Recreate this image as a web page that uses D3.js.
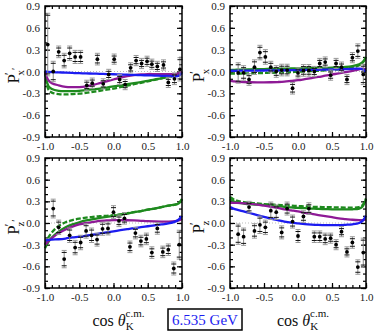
<!DOCTYPE html>
<html>
<head>
<meta charset="utf-8">
<script src="https://cdn.jsdelivr.net/npm/d3@7"></script>
<style>
  body { margin: 0; background: #fff; }
  text { font-family: "Liberation Serif", "DejaVu Serif", serif; }
</style>
</head>
<body>
<div id="root"></div>
<script>
// measured points (cos theta bins)
const cosBins = [-0.88,-0.80,-0.72,-0.64,-0.56,-0.48,-0.40,-0.32,-0.24,-0.16,-0.08,0.0,0.08,0.16,0.24,0.32,0.40,0.48,0.56,0.64,0.72,0.80,0.88,0.96];
const cosBinsTL = [-0.96,-0.88,-0.80,-0.72,-0.64,-0.56,-0.48,-0.39,-0.31,-0.235,-0.15,-0.07,0.01,0.09,0.17,0.25,0.33,0.41,0.49,0.56,0.64,0.73,0.80,0.89,0.97];

const pxPrime = [0.37,0.0,0.27,0.15,0.25,0.2,0.2,-0.19,-0.16,0.17,-0.17,-0.04,0.17,-0.11,-0.18,0.05,0.15,0.11,0.14,0.1,0.07,0.09,-0.15,-0.1,0.03];
const pxPrimeErr = [0.43,0.14,0.08,0.1,0.1,0.09,0.09,0.07,0.07,0.08,0.07,0.07,0.07,0.07,0.07,0.07,0.07,0.07,0.07,0.07,0.07,0.07,0.07,0.08,0.16];

const px = [-0.02,-0.02,-0.11,0.06,0.26,0.2,0.06,0.0,0.02,0.02,-0.23,-0.02,0.015,0.015,0.0,0.11,0.13,-0.05,0.11,0.06,-0.11,0.19,0.28,-0.04];
const pxErr = [0.14,0.1,0.08,0.1,0.1,0.1,0.08,0.08,0.08,0.08,0.08,0.07,0.08,0.08,0.07,0.07,0.07,0.07,0.07,0.07,0.07,0.07,0.1,0.14];

const pzPrime = [0.2,-0.06,-0.5,-0.17,-0.34,-0.27,-0.11,-0.17,-0.23,-0.08,-0.075,0.15,0.03,0.065,-0.33,-0.14,-0.25,-0.22,-0.41,-0.075,-0.4,-0.37,-0.63,-0.3];
const pzPrimeErr = [0.13,0.1,0.12,0.1,0.1,0.1,0.1,0.1,0.09,0.09,0.09,0.09,0.08,0.08,0.08,0.08,0.08,0.08,0.08,0.08,0.08,0.08,0.09,0.2];

const pz = [-0.155,-0.19,0.22,-0.11,-0.025,-0.06,0.17,0.15,-0.13,0.2,0.02,-0.18,0.09,0.2,-0.19,-0.19,-0.22,-0.21,-0.3,-0.12,-0.4,-0.27,-0.61,-0.41];
const pzErr = [0.14,0.12,0.08,0.1,0.12,0.1,0.12,0.1,0.09,0.09,0.09,0.09,0.08,0.08,0.08,0.08,0.08,0.07,0.07,0.07,0.07,0.08,0.1,0.2];

// model curves
const curveX = [-1,-0.95,-0.9,-0.8,-0.7,-0.6,-0.5,-0.4,-0.3,-0.2,-0.1,0,0.1,0.2,0.3,0.4,0.5,0.6,0.7,0.8,0.9,0.95,1.0];

const pxPrimeBlue = [0.0,-0.005,-0.008,-0.012,-0.016,-0.02,-0.023,-0.026,-0.029,-0.032,-0.035,-0.038,-0.041,-0.044,-0.047,-0.05,-0.053,-0.056,-0.059,-0.062,-0.066,-0.06,-0.02];
const pxPrimePurple = [0.0,-0.12,-0.16,-0.19,-0.21,-0.215,-0.215,-0.205,-0.185,-0.16,-0.135,-0.11,-0.085,-0.065,-0.05,-0.04,-0.035,-0.035,-0.035,-0.035,-0.035,-0.025,0.0];
const pxPrimeGreen = [0.0,-0.2,-0.24,-0.265,-0.27,-0.27,-0.265,-0.255,-0.245,-0.235,-0.22,-0.205,-0.19,-0.175,-0.16,-0.145,-0.13,-0.11,-0.095,-0.075,-0.055,-0.04,0.0];
const pxPrimeGreenDash = [0.0,-0.25,-0.29,-0.31,-0.315,-0.31,-0.305,-0.295,-0.28,-0.265,-0.25,-0.235,-0.215,-0.195,-0.175,-0.155,-0.135,-0.115,-0.095,-0.075,-0.05,-0.035,0.0];

const pxBlue = [0.01,0.01,0.01,0.012,0.012,0.013,0.014,0.015,0.016,0.017,0.018,0.02,0.021,0.022,0.024,0.026,0.028,0.03,0.033,0.036,0.04,0.03,0.0];
const pxPurple = [-0.13,-0.135,-0.14,-0.145,-0.148,-0.15,-0.15,-0.148,-0.145,-0.14,-0.13,-0.12,-0.105,-0.09,-0.075,-0.058,-0.042,-0.025,-0.01,0.01,0.03,0.04,0.03];
const pxGreen = [0.02,0.022,0.024,0.027,0.03,0.032,0.034,0.036,0.038,0.04,0.041,0.042,0.044,0.046,0.048,0.05,0.053,0.057,0.062,0.075,0.1,0.13,0.2];
const pxGreenDash = [-0.03,-0.03,-0.029,-0.027,-0.025,-0.022,-0.02,-0.018,-0.015,-0.012,-0.008,-0.004,0.0,0.005,0.01,0.016,0.022,0.03,0.04,0.055,0.085,0.12,0.18];

const pzPrimeBlue = [-0.24,-0.235,-0.23,-0.225,-0.215,-0.2,-0.19,-0.175,-0.16,-0.145,-0.13,-0.115,-0.1,-0.085,-0.07,-0.058,-0.045,-0.032,-0.02,-0.005,0.02,0.045,0.1];
const pzPrimePurple = [-0.3,-0.25,-0.21,-0.14,-0.09,-0.05,-0.02,0.0,0.015,0.03,0.035,0.04,0.04,0.038,0.035,0.03,0.025,0.022,0.02,0.02,0.025,0.035,0.06];
const pzPrimeGreen = [-0.35,-0.26,-0.2,-0.12,-0.06,-0.02,0.01,0.035,0.055,0.07,0.085,0.1,0.115,0.13,0.15,0.165,0.185,0.2,0.22,0.24,0.255,0.27,0.33];
const pzPrimeGreenDash = [-0.3,-0.2,-0.13,-0.04,0.01,0.04,0.06,0.075,0.085,0.095,0.1,0.11,0.12,0.135,0.15,0.165,0.185,0.2,0.22,0.24,0.255,0.27,0.33];

const pzBlue = [0.22,0.2,0.185,0.16,0.135,0.11,0.085,0.06,0.04,0.02,0.005,-0.005,-0.015,-0.022,-0.027,-0.03,-0.03,-0.03,-0.025,-0.018,0.0,0.03,0.1];
const pzPurple = [0.28,0.28,0.278,0.272,0.265,0.255,0.24,0.225,0.21,0.19,0.175,0.16,0.14,0.125,0.11,0.095,0.08,0.065,0.055,0.045,0.04,0.04,0.05];
const pzGreen = [0.33,0.3,0.285,0.27,0.26,0.255,0.25,0.24,0.232,0.225,0.215,0.21,0.205,0.2,0.195,0.193,0.19,0.19,0.19,0.19,0.2,0.23,0.33];
const pzGreenDash = [0.36,0.33,0.31,0.29,0.28,0.27,0.26,0.255,0.25,0.245,0.24,0.235,0.23,0.225,0.222,0.22,0.218,0.215,0.214,0.213,0.22,0.25,0.34];

const xTicks = [-1.0,-0.5,0.0,0.5,1.0];
const yTicks = [-0.9,-0.6,-0.3,0.0,0.3,0.6,0.9];
const energyLabel = "6.535 GeV";

const width = 374, height = 336;
const svg = d3.select("#root").append("svg")
  .attr("width", width).attr("height", height);

const BLUE = "#1c1cf0", PURPLE = "#8e1a96", GREEN = "#1e8a1e";

const panels = [
  { x0: 45, x1: 182, y0: 6, y1: 137, xs: cosBinsTL, ys: pxPrime, err: pxPrimeErr,
    curves: [pxPrimeGreenDash, pxPrimeGreen, pxPrimePurple, pxPrimeBlue], label: ["x", true] },
  { x0: 230, x1: 366, y0: 6, y1: 137, xs: cosBins, ys: px, err: pxErr,
    curves: [pxGreenDash, pxGreen, pxPurple, pxBlue], label: ["x", false] },
  { x0: 45, x1: 182, y0: 158, y1: 288, xs: cosBins, ys: pzPrime, err: pzPrimeErr,
    curves: [pzPrimeGreenDash, pzPrimeGreen, pzPrimePurple, pzPrimeBlue], label: ["z", true] },
  { x0: 230, x1: 366, y0: 158, y1: 288, xs: cosBins, ys: pz, err: pzErr,
    curves: [pzGreenDash, pzGreen, pzPurple, pzBlue], label: ["z", false] }
];
const curveStyle = [
  { color: GREEN, dash: "5,2" },
  { color: GREEN, dash: null },
  { color: PURPLE, dash: null },
  { color: BLUE, dash: null }
];

panels.forEach((p, i) => {
  const x = d3.scaleLinear().domain([-1, 1]).range([p.x0, p.x1]);
  const y = d3.scaleLinear().domain([-0.9, 0.9]).range([p.y1, p.y0]);
  const g = svg.append("g");

  // zero line
  g.append("line")
    .attr("x1", p.x0).attr("x2", p.x1)
    .attr("y1", y(0)).attr("y2", y(0))
    .attr("stroke", "#bbb").attr("stroke-dasharray", "1,2");

  // axes, ticks pointing inward
  const minorX = d3.range(-10, 11).map(d => d / 10);
  const minorY = d3.range(-9, 10).map(d => d / 10);
  const axes = [
    g.append("g").attr("transform", `translate(0,${p.y1})`).call(d3.axisBottom(x).tickValues(minorX).tickSize(-3).tickFormat("")),
    g.append("g").attr("transform", `translate(0,${p.y1})`).call(d3.axisBottom(x).tickValues(xTicks).tickSize(-5).tickPadding(5).tickFormat(d3.format(".1f"))),
    g.append("g").attr("transform", `translate(0,${p.y0})`).call(d3.axisTop(x).tickValues(minorX).tickSize(-3).tickFormat("")),
    g.append("g").attr("transform", `translate(${p.x0},0)`).call(d3.axisLeft(y).tickValues(minorY).tickSize(-3).tickFormat("")),
    g.append("g").attr("transform", `translate(${p.x0},0)`).call(d3.axisLeft(y).tickValues(yTicks).tickSize(-5).tickPadding(5).tickFormat(d3.format(".1f"))),
    g.append("g").attr("transform", `translate(${p.x1},0)`).call(d3.axisRight(y).tickValues(minorY).tickSize(-3).tickFormat("")),
    g.append("g").attr("transform", `translate(${p.x1},0)`).call(d3.axisRight(y).tickValues(yTicks).tickSize(-5).tickFormat(""))
  ];
  axes.forEach(a => {
    a.select(".domain").remove();
    a.selectAll("line").attr("stroke", "#000").attr("stroke-width", 1.2);
    a.selectAll("text").attr("font-family", "Liberation Serif").attr("font-size", 11).attr("fill", "#222")
      .text(function () { return this.textContent.replace("−", "-"); });
  });

  // curves
  p.curves.forEach((c, k) => {
    const line = d3.line().x((d, j) => x(curveX[j])).y(d => y(d)).curve(d3.curveCatmullRom);
    g.append("path")
      .attr("d", line(c))
      .attr("fill", "none")
      .attr("stroke", curveStyle[k].color)
      .attr("stroke-width", 2.3)
      .attr("stroke-dasharray", curveStyle[k].dash);
  });

  // error bars and points
  const pts = g.append("g").selectAll("g").data(p.ys).join("g");
  pts.append("line")
    .attr("x1", (d, j) => x(p.xs[j])).attr("x2", (d, j) => x(p.xs[j]))
    .attr("y1", (d, j) => y(d + p.err[j])).attr("y2", (d, j) => y(d - p.err[j]))
    .attr("stroke", "#888").attr("stroke-width", 1);
  [1, -1].forEach(s => {
    pts.append("line")
      .attr("x1", (d, j) => x(p.xs[j]) - 2.5).attr("x2", (d, j) => x(p.xs[j]) + 2.5)
      .attr("y1", (d, j) => y(d + s * p.err[j])).attr("y2", (d, j) => y(d + s * p.err[j]))
      .attr("stroke", "#999").attr("stroke-width", 1);
    pts.append("line")
      .attr("x1", (d, j) => x(p.xs[j]) - 2.5).attr("x2", (d, j) => x(p.xs[j]) + 2.5)
      .attr("y1", (d, j) => y(d + s * p.err[j]) + s * 2).attr("y2", (d, j) => y(d + s * p.err[j]) + s * 2)
      .attr("stroke", "#111").attr("stroke-width", 1);
  });
  pts.append("circle")
    .attr("cx", (d, j) => x(p.xs[j])).attr("cy", d => y(d))
    .attr("r", 1.9).attr("fill", "#000");

  // frame
  g.append("rect")
    .attr("x", p.x0).attr("y", p.y0)
    .attr("width", p.x1 - p.x0).attr("height", p.y1 - p.y0)
    .attr("fill", "none").attr("stroke", "#000").attr("stroke-width", 1.5);

  // y title
  const yt = svg.append("text")
    .attr("transform", `translate(${p.x0 - 26},${(p.y0 + p.y1) / 2 + 4}) rotate(-90)`)
    .attr("text-anchor", "middle")
    .attr("font-size", 17).attr("fill", "#111");
  yt.append("tspan").text("P");
  yt.append("tspan").attr("dy", -6).attr("dx", -1).attr("font-size", 12).text("′");
  yt.append("tspan").attr("dy", 11).attr("dx", -3).attr("font-size", 11).text(p.label[0]);
  if (p.label[1]) yt.append("tspan").attr("dy", -5).attr("font-size", 11).text("′");

  // x title
  if (i >= 2) {
    const xt = svg.append("text")
      .attr("x", (p.x0 + p.x1) / 2 + 5).attr("y", 326)
      .attr("text-anchor", "middle")
      .attr("font-size", 16).attr("fill", "#111");
    xt.append("tspan").text("cos ");
    xt.append("tspan").attr("font-style", "italic").text("θ");
    xt.append("tspan").attr("dy", 4).attr("font-size", 11).text("K");
    xt.append("tspan").attr("dy", -13).attr("dx", -8).attr("font-size", 11).text("c.m.");
  }
});

// energy box
svg.append("rect")
  .attr("x", 168).attr("y", 309).attr("width", 74).attr("height", 21)
  .attr("fill", "#fff").attr("stroke", "#000").attr("stroke-width", 1.5);
svg.append("text")
  .attr("x", 205).attr("y", 325)
  .attr("text-anchor", "middle")
  .attr("font-size", 15).attr("fill", "#1c1cf0")
  .text(energyLabel);
</script>
</body>
</html>
